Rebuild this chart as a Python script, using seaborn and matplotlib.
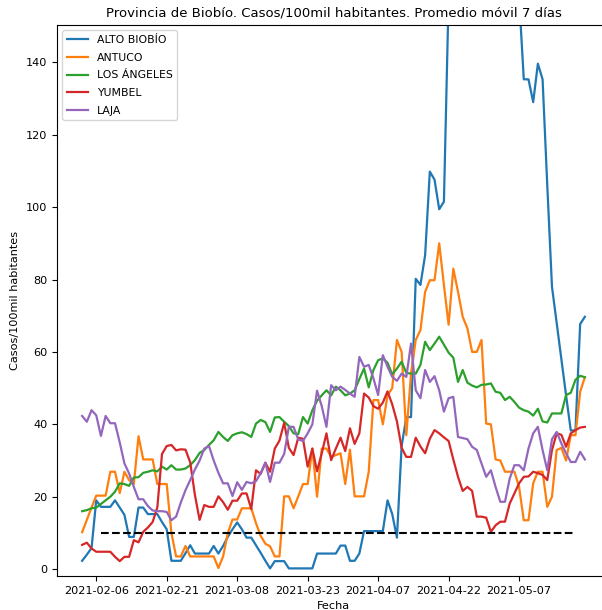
import numpy as np
import pandas as pd
import matplotlib
matplotlib.use("Agg")
import matplotlib.pyplot as plt
import seaborn as sns

start_date = "2021-02-03"
n_days = 108
comunas = ["ALTO BIOBÍO", "ANTUCO", "LOS ÁNGELES", "YUMBEL", "LAJA"]

alto_biobio = [2.3, 4.0, 5.8, 19.0, 17.2, 17.2, 17.2, 19.0, 17.0, 15.0,
               8.9, 8.9, 17.0, 17.0, 15.2, 15.2, 15.2, 13.0, 11.0, 2.3,
               2.3, 2.3, 4.4, 6.6, 4.3, 4.3, 4.3, 4.3, 6.4, 4.3,
               6.4, 8.9, 11.0, 12.9, 11.0, 8.7, 8.7, 6.6, 4.5, 2.3,
               0.2, 2.2, 2.2, 2.2, 0.2, 0.2, 0.2, 0.2, 0.2, 0.2,
               4.3, 4.3, 4.3, 4.3, 4.3, 6.5, 6.5, 2.3, 2.3, 4.3,
               10.5, 10.5, 10.5, 10.5, 10.5, 19.0, 15.2, 8.7, 34.0, 42.0,
               42.0, 80.2, 78.5, 86.7, 109.8, 107.6, 99.4, 101.5, 158.0, 175.0,
               190.0, 205.0, 215.0, 225.0, 232.0, 236.0, 230.0, 222.0, 212.0, 200.0,
               188.0, 176.0, 166.0, 158.0, 135.3, 135.3, 129.0, 139.6, 135.3, 106.0,
               78.0, 68.0, 58.0, 48.0, 38.3, 38.3, 67.7, 69.7]

antuco = [10.2, 13.6, 17.0, 20.3, 20.3, 20.3, 26.9, 26.9, 21.0, 26.9,
          24.6, 23.5, 36.7, 30.3, 30.3, 30.3, 23.5, 23.5, 23.5, 10.0,
          3.5, 3.5, 6.4, 3.5, 3.5, 3.5, 3.5, 3.5, 3.5, 0.3,
          3.5, 9.9, 13.7, 13.7, 16.8, 16.8, 16.8, 12.7, 9.2, 7.0,
          6.3, 3.5, 3.5, 20.1, 20.1, 16.8, 20.1, 23.5, 23.5, 33.3,
          20.0, 33.3, 33.3, 31.0, 31.5, 32.0, 23.5, 33.0, 20.1, 20.1,
          20.1, 26.9, 46.7, 46.7, 40.0, 48.0, 50.0, 63.3, 60.0, 37.0,
          54.0, 63.3, 66.0, 76.6, 79.8, 79.8, 90.0, 78.5, 67.5, 83.0,
          76.6, 69.7, 66.5, 60.0, 60.0, 63.3, 40.2, 40.0, 30.3, 30.0,
          26.9, 26.9, 26.9, 22.7, 13.5, 13.5, 23.7, 26.9, 26.9, 17.2,
          20.0, 32.9, 33.5, 30.0, 37.0, 37.0, 49.0, 53.0]

los_angeles = [16.0, 16.3, 16.8, 17.0, 18.0, 19.0, 20.0, 21.4, 23.7, 23.5,
               23.0, 25.3, 25.4, 26.6, 26.9, 27.3, 27.0, 28.3, 27.5, 28.7,
               27.5, 27.5, 27.8, 28.7, 30.1, 32.1, 32.9, 34.3, 35.6, 37.9,
               36.5, 35.4, 37.0, 37.5, 37.8, 37.3, 36.5, 40.2, 41.2, 40.6,
               37.9, 41.9, 42.0, 40.7, 39.5, 37.5, 37.3, 42.0, 40.2, 43.9,
               46.5, 48.0, 49.4, 48.0, 50.4, 49.4, 48.0, 48.5, 49.4, 52.5,
               55.4, 50.2, 55.0, 57.7, 58.2, 57.0, 53.8, 55.4, 57.3, 54.2,
               54.0, 54.0, 56.4, 62.8, 60.5, 62.3, 64.2, 62.0, 59.8, 58.4,
               51.7, 55.0, 51.5, 50.7, 50.2, 50.9, 51.0, 51.3, 49.0, 48.7,
               46.7, 47.6, 46.2, 44.6, 43.9, 43.5, 42.4, 44.3, 40.8, 40.5,
               43.0, 43.0, 43.0, 48.1, 48.7, 52.3, 53.4, 53.0]

yumbel = [6.7, 7.3, 5.7, 4.8, 4.8, 4.8, 4.8, 3.4, 2.2, 3.4,
          3.4, 8.0, 7.4, 10.3, 11.5, 13.0, 17.0, 31.8, 34.0, 34.3,
          32.8, 33.1, 33.0, 29.5, 20.5, 13.6, 17.7, 17.2, 17.2, 20.1,
          18.5, 16.4, 18.9, 18.9, 20.9, 20.9, 16.6, 27.3, 26.3, 29.4,
          26.9, 33.3, 35.5, 40.4, 33.5, 31.5, 36.3, 36.0, 28.3, 33.3,
          27.0, 32.0, 37.5, 30.1, 33.3, 36.3, 32.6, 38.9, 34.6, 37.5,
          48.5, 47.4, 45.0, 44.3, 46.0, 49.1, 45.5, 40.8, 33.5, 31.0,
          31.0, 36.3, 33.9, 32.0, 36.0, 38.4, 37.5, 36.4, 35.4, 30.3,
          25.5, 21.6, 22.7, 21.6, 14.5, 14.5, 14.2, 10.3, 12.1, 13.1,
          13.1, 18.1, 20.9, 23.7, 25.5, 25.6, 26.9, 26.5, 26.0, 24.6,
          32.9, 37.5, 37.1, 33.8, 37.5, 38.4, 39.1, 39.3]

laja = [42.3, 40.7, 43.9, 42.5, 36.8, 42.3, 40.3, 40.3, 35.0, 29.2,
        26.4, 22.7, 19.3, 19.3, 17.4, 16.2, 16.0, 16.0, 15.8, 13.5,
        14.5, 18.4, 21.8, 24.6, 27.5, 30.0, 33.3, 34.0, 30.0, 26.6,
        23.7, 23.7, 20.2, 24.0, 21.9, 24.1, 23.7, 24.3, 26.5, 29.4,
        24.1, 29.4, 29.4, 31.8, 39.3, 39.3, 35.8, 35.4, 37.5, 40.0,
        49.3, 45.0, 39.3, 50.8, 49.4, 50.4, 49.5, 48.5, 47.6, 58.6,
        55.9, 56.4, 52.7, 48.1, 59.1, 55.9, 53.1, 52.0, 54.0, 53.1,
        62.3, 49.4, 47.2, 55.0, 51.7, 53.3, 49.4, 43.5, 47.2, 47.6,
        36.5, 36.2, 35.9, 33.8, 32.9, 29.2, 25.5, 27.3, 22.7, 18.6,
        18.6, 25.0, 28.7, 28.7, 27.3, 33.3, 37.5, 39.3, 32.9, 27.3,
        35.9, 37.9, 34.7, 32.0, 29.6, 29.6, 32.4, 30.3]

threshold = 10
threshold_span = ["2021-02-07", "2021-05-19"]
tick_labels = ["2021-02-06", "2021-02-21", "2021-03-08", "2021-03-23",
               "2021-04-07", "2021-04-22", "2021-05-07"]

fechas = pd.date_range(start_date, periods=n_days, freq="D")
series = [alto_biobio, antuco, los_angeles, yumbel, laja]
df = pd.concat([pd.DataFrame({"Fecha": fechas, "valor": vals, "Comuna": name})
                for name, vals in zip(comunas, series)], ignore_index=True)

plt.rcParams["font.family"] = ["DejaVu Sans"]
fig = plt.figure(figsize=(6.02, 6.10), dpi=100)
ax = fig.add_axes([57 / 602, 34 / 610, 553 / 602, 551 / 610])

palette = sns.color_palette("tab10", 5)
sns.lineplot(data=df, x="Fecha", y="valor", hue="Comuna", hue_order=comunas,
             palette=palette, linewidth=1.6, ax=ax)
ax.hlines(threshold, pd.Timestamp(threshold_span[0]), pd.Timestamp(threshold_span[1]),
          colors="k", linestyles="--", linewidth=1.5)

ax.set_ylim(-1.9, 150.3)
ax.set_xlim(fechas[0] - pd.Timedelta(days=5.35), fechas[-1] + pd.Timedelta(days=5.35))
ax.set_xticks([pd.Timestamp(t) for t in tick_labels])
ax.set_xticklabels(tick_labels)
ax.set_yticks(range(0, 141, 20))
ax.tick_params(labelsize=8.1)
ax.set_xlabel("Fecha", fontsize=8.1)
ax.set_ylabel("Casos/100mil habitantes", fontsize=8.1)
ax.set_title("Provincia de Biobío. Casos/100mil habitantes. Promedio móvil 7 días",
             fontsize=9.5)
handles, labels = ax.get_legend_handles_labels()
ax.legend(handles, labels, loc="upper left", fontsize=7.8, labelspacing=0.72)

fig.savefig("out.png", dpi=100)
